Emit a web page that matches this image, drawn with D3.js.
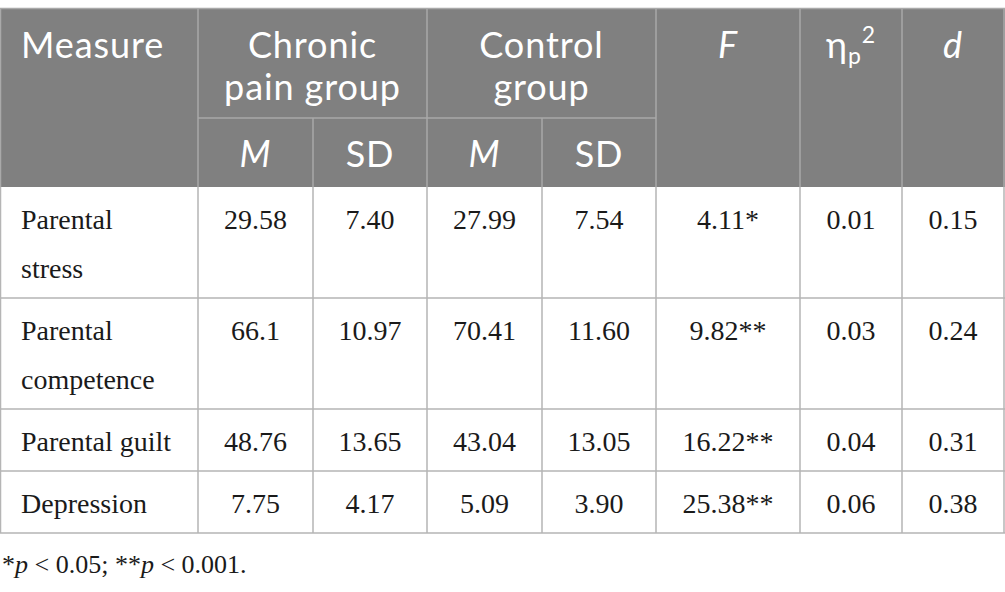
<!DOCTYPE html>
<html><head><meta charset="utf-8">
<script src="https://cdn.jsdelivr.net/npm/d3@7"></script>
<style>
html,body{margin:0;padding:0;background:#fff;}
svg{display:block;}
</style></head>
<body>
<svg id="chart" width="1005" height="592"></svg>
<script>
const measures = [["Parental","stress"],["Parental","competence"],["Parental guilt"],["Depression"]];
const chronicM = ["29.58","66.1","48.76","7.75"];
const chronicSD = ["7.40","10.97","13.65","4.17"];
const controlM = ["27.99","70.41","43.04","5.09"];
const controlSD = ["7.54","11.60","13.05","3.90"];
const fValues = ["4.11*","9.82**","16.22**","25.38**"];
const etaValues = ["0.01","0.03","0.04","0.06"];
const dValues = ["0.15","0.24","0.31","0.38"];
const footnote = "*p < 0.05; **p < 0.001.";

(function(){
const svg = d3.select("#chart");
const colEdges = [0.5,198,313,427,542,656,800,902,1004];
const x = d3.scaleOrdinal().domain(d3.range(9)).range(colEdges);
const edge = i => x(i);
const center = i => (edge(i)+edge(i+1))/2;

const hTop = 8.5, hMid = 118, hBot = 187;
const rowEdges = [187,298,409,471,533];
const y = d3.scaleOrdinal().domain(d3.range(5)).range(rowEdges);

const headFill = "#808080", lineHead = "#a9a9a9", lineBody = "#b5b5b5";
const sans = "Lato, 'Open Sans', sans-serif";
const serif = "'Liberation Serif', 'Times New Roman', serif";

svg.append("rect").attr("x",0).attr("y",hTop).attr("width",1005).attr("height",hBot-hTop).attr("fill",headFill);

const hl = svg.append("g").attr("stroke",lineHead).attr("stroke-width",1.5);
hl.append("line").attr("x1",0).attr("x2",1005).attr("y1",hTop).attr("y2",hTop);
hl.append("line").attr("x1",edge(1)).attr("x2",edge(5)).attr("y1",hMid).attr("y2",hMid);
[1,3,5,6,7].forEach(i=>hl.append("line").attr("x1",edge(i)).attr("x2",edge(i)).attr("y1",hTop).attr("y2",hBot));
[2,4].forEach(i=>hl.append("line").attr("x1",edge(i)).attr("x2",edge(i)).attr("y1",hMid).attr("y2",hBot));
[0,8].forEach(i=>hl.append("line").attr("x1",edge(i)).attr("x2",edge(i)).attr("y1",hTop).attr("y2",hBot));

const ht = svg.append("g").attr("fill","#fff").attr("font-family",sans).attr("font-weight",400)
  .attr("font-size",36).attr("letter-spacing",0.9);
ht.append("text").attr("x",21).attr("y",58).text("Measure");
const grp = [["Chronic","pain group"],["Control","group"]];
grp.forEach((g,k)=>{
  const cx = (edge(1+2*k)+edge(3+2*k))/2;
  g.forEach((t,j)=>ht.append("text").attr("x",cx).attr("y",58+42*j).attr("text-anchor","middle").text(t));
});
[1,2,3,4].forEach(i=>{
  const t = ht.append("text").attr("x",center(i)).attr("y",167).attr("text-anchor","middle");
  if(i%2===1) t.attr("font-style","italic").text("M"); else t.text("SD");
});
ht.append("text").attr("x",center(5)).attr("y",58).attr("text-anchor","middle").attr("font-style","italic").text("F");
const eta = ht.append("text").attr("x",center(6)).attr("y",58).attr("text-anchor","middle");
eta.append("tspan").text("η");
eta.append("tspan").attr("font-size",23).attr("dy",6).text("p");
eta.append("tspan").attr("font-size",23).attr("dy",-21).text("2");
ht.append("text").attr("x",center(7)).attr("y",58).attr("text-anchor","middle").attr("font-style","italic").text("d");

const bl = svg.append("g").attr("stroke",lineBody).attr("stroke-width",1.5);
d3.range(1,5).forEach(r=>bl.append("line").attr("x1",0).attr("x2",1005).attr("y1",y(r)).attr("y2",y(r)));
d3.range(0,9).forEach(i=>bl.append("line").attr("x1",edge(i)).attr("x2",edge(i)).attr("y1",hBot).attr("y2",y(4)));

const bt = svg.append("g").attr("fill","#1a1a1a").attr("font-family",serif).attr("font-size",28);
const cols = [chronicM,chronicSD,controlM,controlSD,fValues,etaValues,dValues];
measures.forEach((m,r)=>{
  const base = y(r)+42;
  m.forEach((t,j)=>bt.append("text").attr("x",21).attr("y",base+49*j).text(t));
  cols.forEach((c,ci)=>bt.append("text").attr("x",center(ci+1)).attr("y",base).attr("text-anchor","middle").text(c[r]));
});

const fn = svg.append("text").attr("x",2).attr("y",573).attr("font-family",serif).attr("font-size",26).attr("fill","#1a1a1a");
footnote.split(/(p)/).forEach(s=>{
  const ts = fn.append("tspan").text(s);
  if(s==="p") ts.attr("font-style","italic");
});
})();
</script>
</body></html>
